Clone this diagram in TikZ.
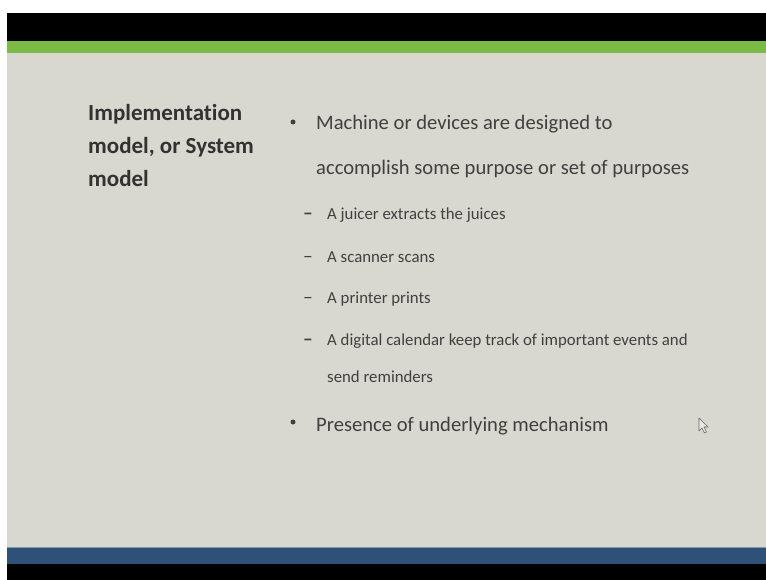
\documentclass[tikz,border=0pt]{standalone}
\usepackage{fontspec}
\setmainfont{Carlito}[Ligatures=CommonOff]
\definecolor{slidebg}{RGB}{216,216,208}
\definecolor{barblack}{RGB}{0,0,0}
\definecolor{bargreen}{RGB}{124,186,70}
\definecolor{barblue}{RGB}{47,80,119}
\definecolor{txt}{RGB}{64,64,64}
\definecolor{titletxt}{RGB}{50,50,50}
\tikzset{
  titleline/.style={anchor=base west, inner sep=0pt, text=titletxt, font=\fontsize{23}{28}\selectfont\bfseries},
  mainline/.style={anchor=base west, inner sep=0pt, text=txt, font=\fontsize{20.6}{25}\selectfont},
  subline/.style={anchor=base west, inner sep=0pt, text=txt, font=\fontsize{16.8}{20}\selectfont},
  dot/.style={circle, fill=txt, inner sep=0pt, minimum size=5pt},
  subdash/.style={anchor=base west, inner sep=0pt, text=txt, font=\fontsize{19.5}{20}\selectfont},
}
\begin{document}
\begin{tikzpicture}[x=1pt, y=-1pt]
\useasboundingbox (0,0) rectangle (766,580);
\fill[white] (0,0) rectangle (766,580);
% slide
\fill[slidebg] (7,13) rectangle (766,580);
\fill[barblack] (7,13) rectangle (766,41);
\fill[bargreen] (7,41) rectangle (766,53);
\fill[barblue] (7,547) rectangle (766,564);
\draw[color=barblue!60!white, line width=0.8pt] (7,547.4) -- (766,547.4);
\fill[barblack] (7,564) rectangle (766,580);
% title
\node[titleline] (t1) at (88,121) {Implementation};
\node[titleline] (t2) at (88,154) {model, or System};
\node[titleline] (t3) at (88,187) {model};
% main bullets
\node[dot] (b1) at (293,122) {};
\node[mainline] (m1) at (316,130) {Machine or devices are designed to};
\node[mainline] (m2) at (316,175) {accomplish some purpose or set of purposes};
% sub bullets
\node[subdash] (d1) at (303,220) {\bfseries –};
\node[subline] (s1) at (327,220) {A juicer extracts the juices};
\node[subdash] (d2) at (303,262) {–};
\node[subline] (s2) at (327,262) {A scanner scans};
\node[subdash] (d3) at (303,303) {–};
\node[subline] (s3) at (327,303) {A printer prints};
\node[subdash] (d4) at (303,345) {\bfseries –};
\node[subline] (s4) at (327,345) {A digital calendar keep track of important events and};
\node[subline] (s5) at (327,382) {send reminders};
% last bullet
\node[dot] (b2) at (293,422) {};
\node[mainline] (m3) at (316,431) {Presence of underlying mechanism};
% mouse pointer
\draw[color=gray!80!black, fill=slidebg!60!white, line width=0.6pt, line join=round]
  (699,418) -- (699,431) -- (702,428) -- (704.5,433) -- (706.5,432) -- (704,427) -- (708,427) -- cycle;
\end{tikzpicture}
\end{document}
